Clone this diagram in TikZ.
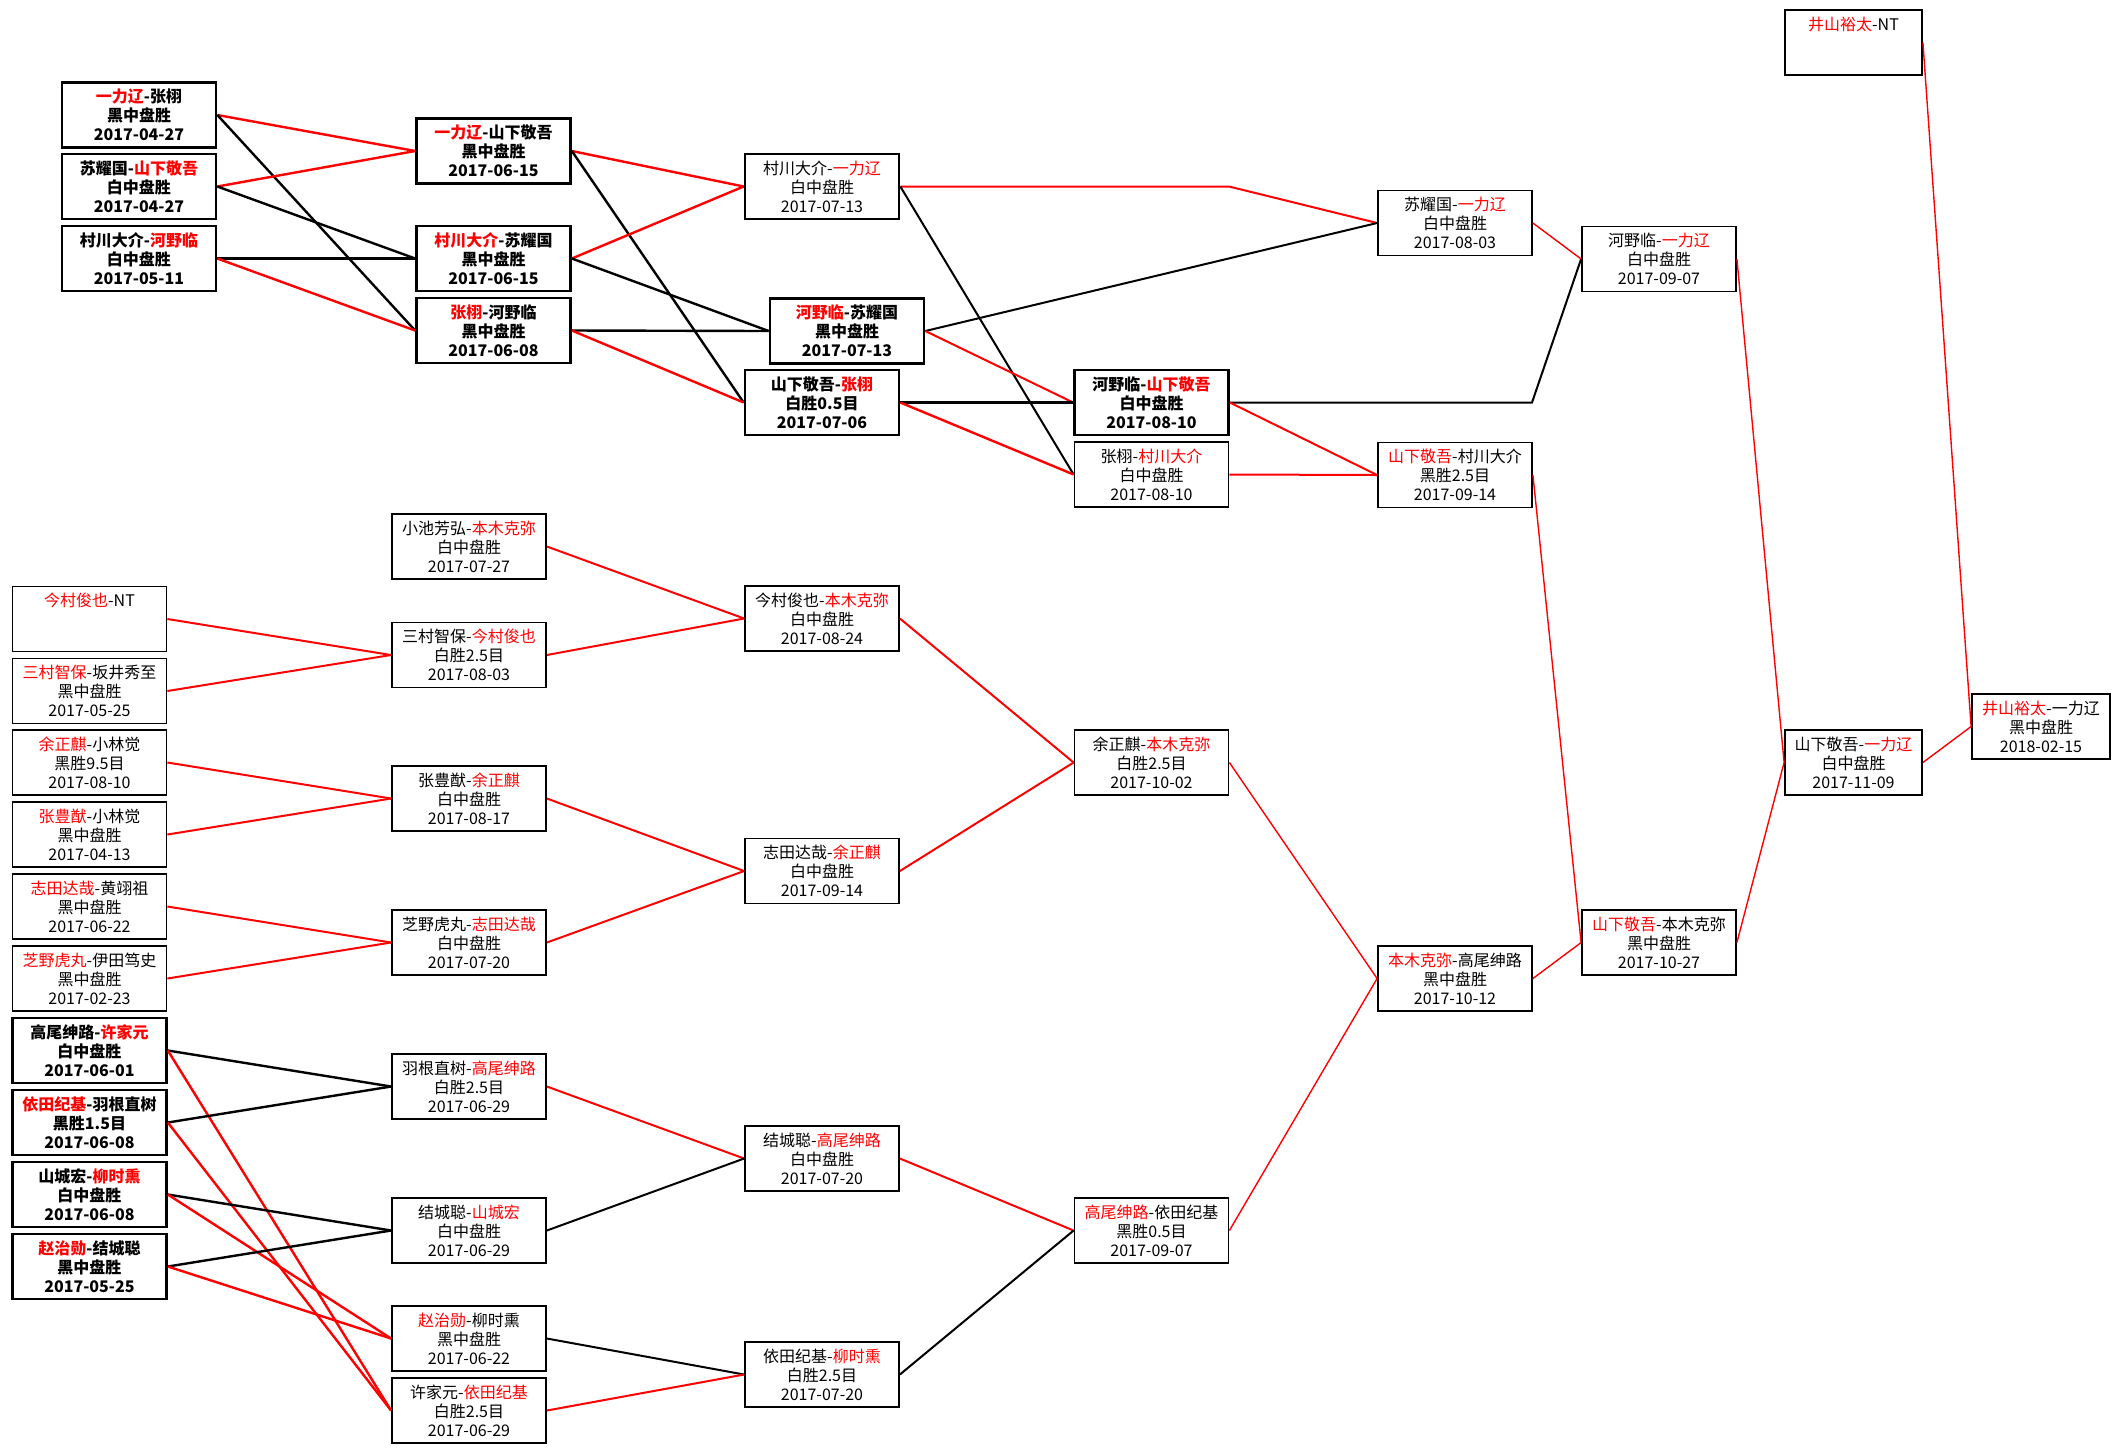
\documentclass[tikz,border=0pt]{standalone}
\usepackage{fontspec}
\setmainfont{Noto Sans CJK SC}
\newcommand{\rn}[1]{\textcolor{red}{#1}}
\tikzset{
  bx/.style={draw, line width=0.9pt, minimum width=77pt, minimum height=32.5pt, inner sep=0pt, align=center, font=\fontsize{8pt}{9.5pt}\selectfont},
  bxk/.style={bx, line width=1.35pt, font=\fontsize{8pt}{9.5pt}\selectfont\bfseries},
  bxt/.style={bx, line width=1.35pt},
  nar/.style={minimum width=68.5pt},
  rk/.style={draw=red, line width=1.2pt},
  kk/.style={draw=black, line width=1.2pt},
  rm/.style={draw=red, line width=1pt},
  km/.style={draw=black, line width=1pt},
  rt/.style={draw=red, line width=0.7pt},
  kt/.style={draw=black, line width=0.7pt}
}
\begin{document}
\begin{tikzpicture}[x=0.5pt,y=-0.5pt]
\useasboundingbox[fill=white] (0,0) rectangle (2121,1453);
% top bracket
\node[bxk] (A1) at (139,115) {\rn{一力辽}-张栩\\黑中盘胜\\2017-04-27};
\node[bxk] (A2) at (139,186.5) {苏耀国-\rn{山下敬吾}\\白中盘胜\\2017-04-27};
\node[bxk] (A3) at (139,258.5) {村川大介-\rn{河野临}\\白中盘胜\\2017-05-11};
\node[bxk] (B1) at (493.5,151) {\rn{一力辽}-山下敬吾\\黑中盘胜\\2017-06-15};
\node[bxk] (B2) at (493.5,258.5) {\rn{村川大介}-苏耀国\\黑中盘胜\\2017-06-15};
\node[bxk] (B3) at (493.5,330.5) {\rn{张栩}-河野临\\黑中盘胜\\2017-06-08};
\node[bxt] (C1) at (822,186.5) {村川大介-\rn{一力辽}\\白中盘胜\\2017-07-13};
\node[bxk] (C2) at (847,331) {\rn{河野临}-苏耀国\\黑中盘胜\\2017-07-13};
\node[bxk] (C3) at (822,402.5) {山下敬吾-\rn{张栩}\\白胜0.5目\\2017-07-06};
\node[bxk] (D1) at (1151.5,402.5) {河野临-\rn{山下敬吾}\\白中盘胜\\2017-08-10};
\node[bx] (D2) at (1151.5,474.5) {张栩-\rn{村川大介}\\白中盘胜\\2017-08-10};
\node[bx] (E1) at (1455,223) {苏耀国-\rn{一力辽}\\白中盘胜\\2017-08-03};
\node[bx] (E2) at (1455,475) {\rn{山下敬吾}-村川大介\\黑胜2.5目\\2017-09-14};
\node[bx] (E3) at (1455,978.5) {\rn{本木克弥}-高尾绅路\\黑中盘胜\\2017-10-12};
\node[bx] (F1) at (1659,259) {河野临-\rn{一力辽}\\白中盘胜\\2017-09-07};
\node[bx] (F2) at (1659,942.5) {\rn{山下敬吾}-本木克弥\\黑中盘胜\\2017-10-27};
\node[bx,nar] (G1) at (1853.5,42.5) {\rn{井山裕太}-NT\\\phantom{0}\\\phantom{0}};
\node[bx,nar] (G2) at (1853.5,762.5) {山下敬吾-\rn{一力辽}\\白中盘胜\\2017-11-09};
\node[bx,minimum width=69pt] (H1) at (2041,726.5) {\rn{井山裕太}-一力辽\\黑中盘胜\\2018-02-15};
% lower bracket, column A
\node[bx] (LA1) at (89.5,619) {\rn{今村俊也}-NT\\\phantom{0}\\\phantom{0}};
\node[bx] (LA2) at (89.5,691) {\rn{三村智保}-坂井秀至\\黑中盘胜\\2017-05-25};
\node[bx] (LA3) at (89.5,762.5) {\rn{余正麒}-小林觉\\黑胜9.5目\\2017-08-10};
\node[bx] (LA4) at (89.5,834.5) {\rn{张豊猷}-小林觉\\黑中盘胜\\2017-04-13};
\node[bx] (LA5) at (89.5,906.5) {\rn{志田达哉}-黄翊祖\\黑中盘胜\\2017-06-22};
\node[bx] (LA6) at (89.5,978.5) {\rn{芝野虎丸}-伊田笃史\\黑中盘胜\\2017-02-23};
\node[bxk] (LA7) at (89.5,1050.5) {高尾绅路-\rn{许家元}\\白中盘胜\\2017-06-01};
\node[bxk] (LA8) at (89.5,1122.5) {\rn{依田纪基}-羽根直树\\黑胜1.5目\\2017-06-08};
\node[bxk] (LA9) at (89.5,1194.5) {山城宏-\rn{柳时熏}\\白中盘胜\\2017-06-08};
\node[bxk] (LA10) at (89.5,1266.5) {\rn{赵治勋}-结城聪\\黑中盘胜\\2017-05-25};
% column B
\node[bx] (LB1) at (469,546.5) {小池芳弘-\rn{本木克弥}\\白中盘胜\\2017-07-27};
\node[bx] (LB2) at (469,655) {三村智保-\rn{今村俊也}\\白胜2.5目\\2017-08-03};
\node[bx] (LB3) at (469,798.5) {张豊猷-\rn{余正麒}\\白中盘胜\\2017-08-17};
\node[bx] (LB4) at (469,942.5) {芝野虎丸-\rn{志田达哉}\\白中盘胜\\2017-07-20};
\node[bx] (LB5) at (469,1086.5) {羽根直树-\rn{高尾绅路}\\白胜2.5目\\2017-06-29};
\node[bx] (LB6) at (469,1230.5) {结城聪-\rn{山城宏}\\白中盘胜\\2017-06-29};
\node[bx] (LB7) at (469,1338.5) {\rn{赵治勋}-柳时熏\\黑中盘胜\\2017-06-22};
\node[bx] (LB8) at (469,1410.5) {许家元-\rn{依田纪基}\\白胜2.5目\\2017-06-29};
% column C
\node[bx] (LC1) at (822,618.5) {今村俊也-\rn{本木克弥}\\白中盘胜\\2017-08-24};
\node[bx] (LC2) at (822,871) {志田达哉-\rn{余正麒}\\白中盘胜\\2017-09-14};
\node[bx] (LC3) at (822,1158.5) {结城聪-\rn{高尾绅路}\\白中盘胜\\2017-07-20};
\node[bx] (LC4) at (822,1374.5) {依田纪基-\rn{柳时熏}\\白胜2.5目\\2017-07-20};
% column D
\node[bx] (LD1) at (1151.5,762.5) {余正麒-\rn{本木克弥}\\白胜2.5目\\2017-10-02};
\node[bx] (LD2) at (1151.5,1230.5) {\rn{高尾绅路}-依田纪基\\黑胜0.5目\\2017-09-07};
% bend points
\coordinate (c1bend) at (1229,186.5);
\coordinate (d1bend) at (1532,402.5);
% top connectors
\draw[rk] (A1.east) -- (B1.west);
\draw[kk] (A1.east) -- (B3.west);
\draw[rk] (A2.east) -- (B1.west);
\draw[kk] (A2.east) -- (B2.west);
\draw[kk] (A3.east) -- (B2.west);
\draw[rk] (A3.east) -- (B3.west);
\draw[rk] (B1.east) -- (C1.west);
\draw[kk] (B1.east) -- (C3.west);
\draw[rk] (B2.east) -- (C1.west);
\draw[kk] (B2.east) -- (C2.west);
\draw[kk] (B3.east) -- (C2.west);
\draw[rk] (B3.east) -- (C3.west);
\draw[rm] (C1.east) -- (c1bend) -- (E1.west);
\draw[km] (C1.east) -- (D2.west);
\draw[km] (C2.east) -- (E1.west);
\draw[rm] (C2.east) -- (D1.west);
\draw[kk] (C3.east) -- (D1.west);
\draw[rk] (C3.east) -- (D2.west);
\draw[km] (D1.east) -- (d1bend) -- (F1.west);
\draw[rm] (D1.east) -- (E2.west);
\draw[rm] (D2.east) -- (E2.west);
\draw[rt] (E1.east) -- (F1.west);
\draw[rt] (E2.east) -- (F2.west);
\draw[rt] (E3.east) -- (F2.west);
\draw[rt] (F1.east) -- (G2.west);
\draw[rt] (F2.east) -- (G2.west);
\draw[rt] (G1.east) -- (H1.west);
\draw[rt] (G2.east) -- (H1.west);
% lower connectors
\draw[rm] (LA1.east) -- (LB2.west);
\draw[rm] (LA2.east) -- (LB2.west);
\draw[rm] (LA3.east) -- (LB3.west);
\draw[rm] (LA4.east) -- (LB3.west);
\draw[rm] (LA5.east) -- (LB4.west);
\draw[rm] (LA6.east) -- (LB4.west);
\draw[rm] (LB1.east) -- (LC1.west);
\draw[rm] (LB2.east) -- (LC1.west);
\draw[rm] (LB3.east) -- (LC2.west);
\draw[rm] (LB4.east) -- (LC2.west);
\draw[rm] (LC1.east) -- (LD1.west);
\draw[rm] (LC2.east) -- (LD1.west);
\draw[rt] (LD1.east) -- (E3.west);
\draw[rt] (LD2.east) -- (E3.west);
\draw[kk] (LA7.east) -- (LB5.west);
\draw[rk] (LA7.east) -- (LB8.west);
\draw[kk] (LA8.east) -- (LB5.west);
\draw[rk] (LA8.east) -- (LB8.west);
\draw[kk] (LA9.east) -- (LB6.west);
\draw[rk] (LA9.east) -- (LB7.west);
\draw[kk] (LA10.east) -- (LB6.west);
\draw[rk] (LA10.east) -- (LB7.west);
\draw[rm] (LB5.east) -- (LC3.west);
\draw[km] (LB6.east) -- (LC3.west);
\draw[km] (LB7.east) -- (LC4.west);
\draw[rm] (LB8.east) -- (LC4.west);
\draw[rm] (LC3.east) -- (LD2.west);
\draw[km] (LC4.east) -- (LD2.west);
\end{tikzpicture}
\end{document}
